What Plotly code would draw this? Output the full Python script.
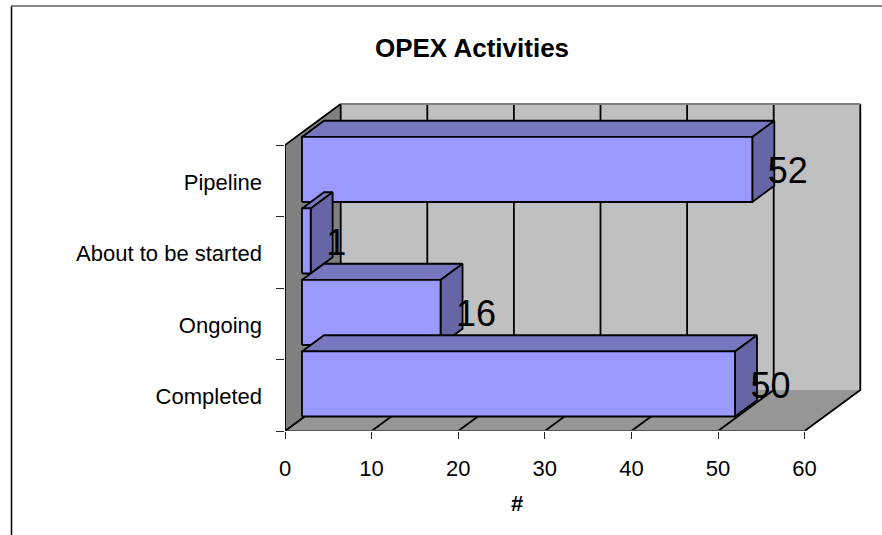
import plotly.graph_objects as go

# --- data ---
categories = ["Completed", "Ongoing", "About to be started", "Pipeline"]
values = [50, 16, 1, 52]
x_ticks = [0, 10, 20, 30, 40, 50, 60]
title_text = "OPEX Activities"
x_title = "#"

# --- geometry (axis units; the oblique depth direction is a shear) ---
W, H = 882, 535
PX_X = 8.66      # pixels per value unit
PX_Y = 71.5      # pixels per category
M_L, M_B, M_T, M_R = 285, 104, 90, 12
DEPTH_X = 55.7 / PX_X
DEPTH_Y = 41 / PX_Y
BAR_FRONT, BAR_BACK = 0.305, 0.70
BAR_LOW, BAR_H = 0.028, 0.91
X0, XMAX = 0, 60
NCAT = len(categories)

BLACK = "#000000"
FRONT, TOP, SIDE = "#9999FF", "#7777C0", "#6666A6"
WALL_L, WALL_B, FLOOR = "#808080", "#C0C0C0", "#969696"


def p(v, c, d):
    return v + d * DEPTH_X, c + d * DEPTH_Y


fig = go.Figure()


def poly(points, fill=None, line=BLACK, width=1.8):
    xs, ys = zip(*points)
    kw = dict(fill="toself", fillcolor=fill) if fill else {}
    fig.add_trace(go.Scatter(
        x=list(xs), y=list(ys), mode="lines",
        line=dict(color=line or "rgba(0,0,0,0)", width=width, shape="linear"),
        hoverinfo="skip", showlegend=False, **kw))


# walls and floor
poly([p(X0, 0, 0), p(X0, 0, 1), p(X0, NCAT, 1), p(X0, NCAT, 0), p(X0, 0, 0)], WALL_L, None)
poly([p(X0, 0, 1), p(XMAX, 0, 1), p(XMAX, NCAT, 1), p(X0, NCAT, 1), p(X0, 0, 1)], WALL_B, None)
poly([p(X0, 0, 0), p(XMAX, 0, 0), p(XMAX, 0, 1), p(X0, 0, 1), p(X0, 0, 0)], FLOOR, None)

# gridlines on the back wall and the floor
for t in x_ticks:
    poly([p(t, NCAT, 1), p(t, 0, 1), p(t, 0, 0)], width=1.8)
poly([p(X0, 0, 0), p(XMAX, 0, 0)], line="#555555", width=1.8)
poly([p(X0, NCAT, 1), p(XMAX, NCAT, 1)], line="#808080", width=1.8)
poly([p(X0, 0, 0), p(X0, NCAT, 0), p(X0, NCAT, 1)], width=1.8)
poly([p(X0, 0, 1), p(X0, 0, 0)], width=1.5)

# bars, back to front
for i in reversed(range(NCAT)):
    v = values[i]
    lo, hi = i + BAR_LOW, i + BAR_LOW + BAR_H
    a, b = BAR_FRONT, BAR_BACK
    poly([p(0, hi, a), p(v, hi, a), p(v, hi, b), p(0, hi, b), p(0, hi, a)], TOP)
    poly([p(v, lo, a), p(v, lo, b), p(v, hi, b), p(v, hi, a), p(v, lo, a)], SIDE)
    poly([p(0, lo, a), p(v, lo, a), p(v, hi, a), p(0, hi, a), p(0, lo, a)], FRONT)

# value labels
fig.add_trace(go.Scatter(
    x=[v + 3.75 for v in values],
    y=[i + 0.59 for i in range(NCAT)],
    mode="text",
    text=[str(v) for v in values],
    textposition="middle right",
    textfont=dict(family="Liberation Sans, Arial", size=36, color=BLACK),
    hoverinfo="skip", showlegend=False))

fig.update_layout(
    width=W, height=H,
    margin=dict(l=M_L, r=M_R, t=M_T, b=M_B, pad=0, autoexpand=False),
    paper_bgcolor="white", plot_bgcolor="rgba(0,0,0,0)",
    showlegend=False,
    font=dict(family="Liberation Sans, Arial", color=BLACK, size=22),
    title=dict(text=f"<b>{title_text}</b>", xref="container", yref="container",
               x=472 / W, y=1 - 48 / H, xanchor="center", yanchor="middle",
               font=dict(size=26, family="Liberation Sans, Arial", color=BLACK)),
    xaxis=dict(
        range=[0, (W - M_L - M_R) / PX_X], tickmode="array",
        tickvals=x_ticks, ticktext=[str(t) for t in x_ticks],
        ticks="outside", ticklen=7, tickwidth=1, tickcolor="#222222",
        ticklabelstandoff=11, showgrid=False, zeroline=False, showline=False,
        fixedrange=True),
    yaxis=dict(
        range=[0, (H - M_T - M_B) / PX_Y], tickmode="array",
        tickvals=[i + 0.48 for i in range(NCAT)], ticktext=categories,
        ticks="", ticklabelstandoff=22, showgrid=False, zeroline=False,
        showline=False, fixedrange=True,
        minor=dict(tickmode="array", tickvals=list(range(NCAT + 1)), ticks="outside",
                   ticklen=8, tickwidth=1, tickcolor="#222222", showgrid=False)),
    annotations=[dict(
        text=f"<b>{x_title}</b>", x=(517 - M_L) / PX_X, y=0, xref="x", yref="y",
        yshift=-72, showarrow=False, yanchor="middle",
        font=dict(size=22, family="Liberation Sans, Arial", color=BLACK))],
    shapes=[
        dict(type="line", xref="paper", yref="paper",
             x0=(11.5 - M_L) / (W - M_L - M_R), x1=(11.5 - M_L) / (W - M_L - M_R),
             y0=(H - 6 - M_B) / (H - M_T - M_B), y1=(0 - M_B) / (H - M_T - M_B),
             line=dict(color=BLACK, width=1.5)),
        dict(type="line", xref="paper", yref="paper",
             x0=(11 - M_L) / (W - M_L - M_R), x1=(W - M_L) / (W - M_L - M_R),
             y0=(H - 6 - M_B) / (H - M_T - M_B), y1=(H - 6 - M_B) / (H - M_T - M_B),
             line=dict(color="#606060", width=1.5)),
    ],
)

fig.write_html("out.html", config={"displayModeBar": False},
               post_script="document.body.style.margin='0';document.documentElement.style.overflow='hidden';")
